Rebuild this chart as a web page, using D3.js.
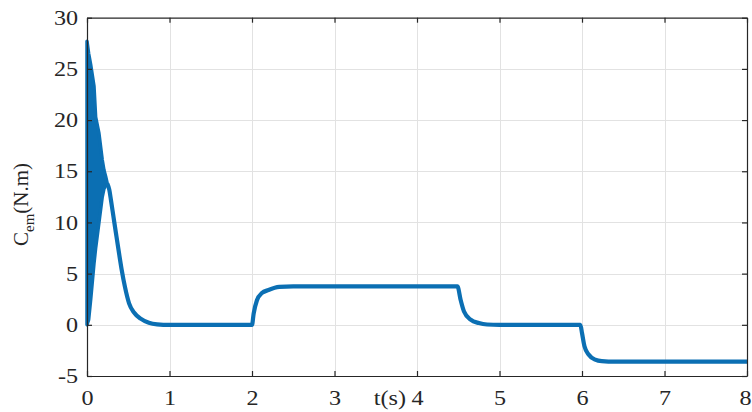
<!DOCTYPE html>
<html>
<head>
<meta charset="utf-8">
<script src="https://cdn.jsdelivr.net/npm/d3@7"></script>
<style>
  html, body { margin: 0; padding: 0; background: #fff; }
  svg { display: block; }
  text { font-family: "Liberation Serif", "Times New Roman", serif; fill: #262626; }
</style>
</head>
<body>
<svg id="chart" width="752" height="412"></svg>
<script>
// ---- data ----
const xTicks = [0, 1, 2, 3, 4, 5, 6, 7, 8];
const yTicks = [-5, 0, 5, 10, 15, 20, 25, 30];

// start-up oscillation: envelope of the dense oscillation (time, upper, lower)
const envTime  = [0, 0.02, 0.045, 0.085, 0.105, 0.145, 0.185, 0.206, 0.226, 0.246];
const envUpper = [27.7, 26.5, 25.4, 23.3, 20.3, 18.7, 16.1, 15.1, 14.5, 13.8];
const envLower = [0, 0.5, 2.5, 6.0, 7.5, 10.0, 12.5, 13.3, 13.6, 13.8];

// torque after the start-up transient
const curveTime = [0.246, 0.27, 0.29, 0.32, 0.35, 0.39, 0.42, 0.46, 0.51, 0.57, 0.65, 0.75, 0.85, 1.0,
                   2.0, 2.02, 2.06, 2.12, 2.2, 2.33, 2.5,
                   4.49, 4.53, 4.57, 4.65, 4.75, 4.85, 5.0,
                   5.98, 6.0, 6.03, 6.08, 6.16, 6.24, 6.4, 8.0];
const curveTorque = [13.8, 13.2, 12.2, 10.6, 9.0, 6.9, 5.4, 3.7, 2.1, 1.2, 0.6, 0.2, 0.05, 0,
                     0, 1.1, 2.4, 3.1, 3.4, 3.7, 3.75,
                     3.75, 2.4, 1.3, 0.5, 0.17, 0.03, 0,
                     0, -0.8, -2.1, -2.9, -3.4, -3.55, -3.6, -3.6];

const xLabel = "t(s)";

// ---- layout ----
const W = 752;
const L = 87, R = 747, T = 17.7, B = 376;
const svg = d3.select("#chart");
const x = d3.scaleLinear().domain([0, 8]).range([L, R]);
const y = d3.scaleLinear().domain([-5, 30]).range([B, T]);
const blue = "#0b6fb3";
const axisColor = "#262626";
const fontSize = 21;
const sx = 1.15; // horizontal stretch of the reference's lettering

// grid
const grid = svg.append("g").attr("stroke", "#e2e2e2").attr("stroke-width", 1);
grid.selectAll("line.v").data(xTicks.filter(d => d > 0 && d < 8)).join("line")
  .attr("x1", d => Math.round(x(d)) + 0.5).attr("x2", d => Math.round(x(d)) + 0.5)
  .attr("y1", T).attr("y2", B);
grid.selectAll("line.h").data(yTicks.filter(d => d > -5 && d < 30)).join("line")
  .attr("y1", d => Math.round(y(d)) + 0.5).attr("y2", d => Math.round(y(d)) + 0.5)
  .attr("x1", L).attr("x2", R);

// data: oscillation envelope
const env = envTime.map((t, i) => ({ t, hi: envUpper[i], lo: envLower[i] }));
svg.append("path")
  .datum(env)
  .attr("fill", blue)
  .attr("stroke", blue)
  .attr("stroke-width", 3.5)
  .attr("stroke-linejoin", "round")
  .attr("d", d3.area().x(d => x(d.t)).y0(d => y(d.lo)).y1(d => y(d.hi)));

// data: main curve
const pts = curveTime.map((t, i) => ({ t, v: curveTorque[i] }));
svg.append("path")
  .datum(pts)
  .attr("fill", "none")
  .attr("stroke", blue)
  .attr("stroke-width", 4.2)
  .attr("stroke-linejoin", "round")
  .attr("d", d3.line().x(d => x(d.t)).y(d => y(d.v)).curve(d3.curveMonotoneX));

// axes
function styleAxis(g) {
  g.select(".domain").attr("stroke", axisColor).attr("stroke-width", 1.2);
  g.selectAll(".tick line").attr("stroke", axisColor).attr("stroke-width", 1.2);
  g.selectAll("text").attr("fill", axisColor).style("font-size", fontSize + "px")
    .style("font-family", '"Liberation Serif", "Times New Roman", serif');
}
const fmt = d => String(d);
svg.append("g").attr("transform", `translate(0,${B})`)
  .call(d3.axisBottom(x).tickValues(xTicks).tickSize(-5).tickSizeOuter(0).tickPadding(14).tickFormat(fmt))
  .call(styleAxis)
  .call(g => g.selectAll(".tick text").attr("transform", `scale(${sx},1)`))
  // keep the last label inside the picture, flush with the right edge as in the reference
  .call(g => g.selectAll(".tick text").filter(d => d === xTicks[xTicks.length - 1])
    .attr("text-anchor", "end").attr("x", (W - 1 - R) / sx));
svg.append("g").attr("transform", `translate(0,${T})`)
  .call(d3.axisTop(x).tickValues(xTicks).tickSize(-5).tickSizeOuter(0).tickFormat(""))
  .call(styleAxis);
svg.append("g").attr("transform", `translate(${L},0)`)
  .call(d3.axisLeft(y).tickValues(yTicks).tickSize(-5).tickSizeOuter(0).tickPadding(9).tickFormat(fmt))
  .call(styleAxis)
  .call(g => g.selectAll(".tick text").attr("x", -9 / sx).attr("transform", `scale(${sx},1)`));
svg.append("g").attr("transform", `translate(${R},0)`)
  .call(d3.axisRight(y).tickValues(yTicks).tickSize(-5).tickSizeOuter(0).tickFormat(""))
  .call(styleAxis);
svg.selectAll(".domain").attr("fill", "none");

// axis titles
svg.append("text")
  .attr("transform", `translate(406,${B + 14}) scale(${sx},1)`)
  .attr("dy", "0.71em")
  .attr("text-anchor", "end")
  .style("font-size", fontSize + "px")
  .text(xLabel);

const yl = svg.append("text")
  .attr("transform", "translate(28,246) rotate(-90)")
  .attr("text-anchor", "start")
  .style("font-size", fontSize + "px");
yl.append("tspan").text("C");
yl.append("tspan").attr("dy", 6).style("font-size", "15px").text("em");
yl.append("tspan").attr("dy", -6).text("(N.m)");
</script>
</body>
</html>
